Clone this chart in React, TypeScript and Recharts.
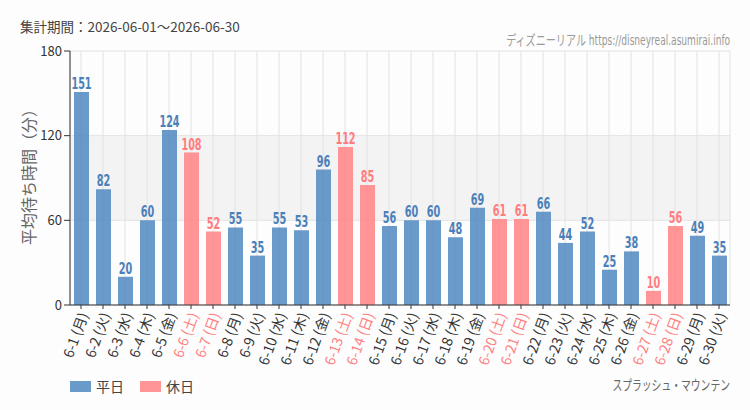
import { BarChart, Bar, XAxis, YAxis, CartesianGrid, Cell, LabelList } from "recharts";

// 日付・曜日・平均待ち時間（分）
const dates = [
  "6-1", "6-2", "6-3", "6-4", "6-5", "6-6", "6-7", "6-8", "6-9", "6-10",
  "6-11", "6-12", "6-13", "6-14", "6-15", "6-16", "6-17", "6-18", "6-19", "6-20",
  "6-21", "6-22", "6-23", "6-24", "6-25", "6-26", "6-27", "6-28", "6-29", "6-30",
];
const weekdays = [
  "月", "火", "水", "木", "金", "土", "日", "月", "火", "水",
  "木", "金", "土", "日", "月", "火", "水", "木", "金", "土",
  "日", "月", "火", "水", "木", "金", "土", "日", "月", "火",
];
const waits = [
  151, 82, 20, 60, 124, 108, 52, 55, 35, 55,
  53, 96, 112, 85, 56, 60, 60, 48, 69, 61,
  61, 66, 44, 52, 25, 38, 10, 56, 49, 35,
];
const yTicks = [0, 60, 120, 180];

const BLUE = "#5088c0";
const PINK = "#ff8285";
const BLUE_TEXT = "#4a80b9";
const PINK_TEXT = "#ff7c80";
const JP = "'Noto Sans CJK JP', 'Noto Sans', sans-serif";
const NARROW = "'Liberation Sans Narrow', 'DejaVu Sans Condensed', 'Noto Sans CJK JP', sans-serif";

const isHoliday = (w: string) => w === "土" || w === "日";

const data = dates.map((d, i) => ({
  label: `${d} (${weekdays[i]})`,
  wait: waits[i],
  holiday: isHoliday(weekdays[i]),
}));

function DayTick({ x, y, payload, index }: any) {
  const holiday = data[index]?.holiday;
  return (
    <g transform={`translate(${x + 3},${y + 2})`}>
      <text
        transform="rotate(-70)"
        textAnchor="end"
        dy="0.35em"
        fontSize={14}
        fontFamily={JP}
        fill={holiday ? "#ff7f7f" : "#333"}
      >
        {payload.value}
      </text>
    </g>
  );
}

function ValueLabel({ x, y, width, value, index }: any) {
  const holiday = data[index]?.holiday;
  const cx = x + width / 2;
  return (
    <text
      transform={`translate(${cx},${y - 3}) scale(0.72,1)`}
      textAnchor="middle"
      fontSize={15}
      fontWeight={600}
      fontFamily={NARROW}
      fill={holiday ? PINK_TEXT : BLUE_TEXT}
    >
      {value}
    </text>
  );
}

function AxisTitle({ viewBox }: any) {
  const cy = viewBox.y + viewBox.height / 2 - 5;
  return (
    <text
      x={28}
      y={cy}
      transform={`rotate(-90, 28, ${cy})`}
      textAnchor="middle"
      dominantBaseline="central"
      fontSize={16}
      fontFamily={JP}
      fill="#666"
    >
      平均待ち時間（分）
    </text>
  );
}

const narrowText = (scale: number): React.CSSProperties => ({
  transform: `scaleX(${scale})`,
  transformOrigin: "right center",
  whiteSpace: "nowrap",
});

export default function App() {
  return (
    <div style={{ position: "relative", width: 750, height: 410, background: "#fcfdfc", overflow: "hidden" }}>
      <style>{`body{margin:0}`}</style>
      <div style={{ position: "absolute", left: 20, top: 16, fontSize: 13.5, fontFamily: JP, color: "#444", lineHeight: "20px" }}>
        集計期間：2026-06-01～2026-06-30
      </div>
      <div style={{ position: "absolute", right: 20, top: 30, fontSize: 14, fontFamily: NARROW, color: "#9a9a9a", lineHeight: "20px", ...narrowText(0.72) }}>
        ディズニーリアル https://disneyreal.asumirai.info
      </div>

      <div style={{ position: "absolute", left: 0, top: 0 }}>
        <BarChart width={750} height={410} data={data} margin={{ top: 51, right: 20, left: 0, bottom: 0 }}>
          <CartesianGrid stroke="#e2e2e2" horizontalFill={["none", "#f3f3f3", "none"]} />
          <XAxis
            dataKey="label"
            interval={0}
            height={105}
            tickSize={4}
            tickMargin={2}
            axisLine={{ stroke: "#333" }}
            tickLine={{ stroke: "#333" }}
            tick={<DayTick />}
          />
          <YAxis
            width={70}
            domain={[0, 180]}
            ticks={yTicks}
            tickSize={6}
            axisLine={{ stroke: "#333" }}
            tickLine={{ stroke: "#333" }}
            tick={{ fill: "#333", fontSize: 13, fontFamily: JP }}
            label={{ content: <AxisTitle /> }}
          />
          <Bar dataKey="wait" barSize={15} fillOpacity={0.85} isAnimationActive={false}>
            {data.map((d, i) => (
              <Cell key={i} fill={d.holiday ? PINK : BLUE} />
            ))}
            <LabelList dataKey="wait" content={<ValueLabel />} />
          </Bar>
        </BarChart>
      </div>

      <div style={{ position: "absolute", left: 70, top: 378, display: "flex", alignItems: "center", fontSize: 14, fontFamily: JP, color: "#444", lineHeight: "16px" }}>
        <span style={{ display: "inline-block", width: 21, height: 11, background: "#6a9ac9", marginRight: 5 }} />
        <span>平日</span>
        <span style={{ display: "inline-block", width: 21, height: 11, background: "#ff9597", marginLeft: 16, marginRight: 5 }} />
        <span>休日</span>
      </div>
      <div style={{ position: "absolute", right: 20, top: 375, fontSize: 14, fontFamily: NARROW, color: "#666", lineHeight: "20px", ...narrowText(0.7) }}>
        スプラッシュ・マウンテン
      </div>
    </div>
  );
}
